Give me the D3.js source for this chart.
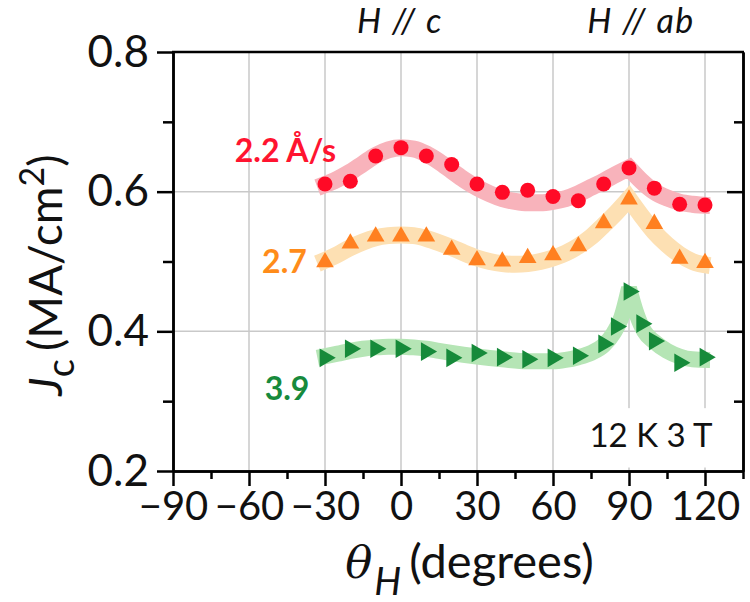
<!DOCTYPE html>
<html><head><meta charset="utf-8">
<script src="https://cdn.jsdelivr.net/npm/d3@7"></script>
<style>body{margin:0;background:#fff}svg{display:block}</style>
</head><body>
<script>
// ---- data ----
const redAngles = [-30,-20,-10,0,10,20,30,40,50,60,70,80,90,100,110,120];
const redValues = [0.611,0.615,0.651,0.663,0.651,0.639,0.611,0.599,0.602,0.593,0.587,0.611,0.634,0.605,0.582,0.581];
const orangeAngles = [-30,-20,-10,0,10,20,30,40,50,60,70,80,90,100,110,120];
const orangeValues = [0.499,0.526,0.536,0.536,0.536,0.517,0.502,0.500,0.505,0.509,0.522,0.555,0.589,0.554,0.504,0.498];
const greenAngles = [-30,-20,-10,0,10,20,30,40,50,60,70,80,85,90,95,100,110,120];
const greenValues = [0.362,0.375,0.375,0.375,0.371,0.362,0.369,0.363,0.360,0.362,0.365,0.382,0.407,0.457,0.411,0.386,0.355,0.363];

// fitted guide bands
const redFitAngles = [-33,-25,-20,-15,-10,-5,0,5,10,15,20,25,30,35,40,45,50,55,60,65,70,75,80,85,90,95,100,105,110,115,122];
const redFitValues = [0.606,0.618,0.628,0.640,0.652,0.660,0.663,0.661,0.654,0.643,0.630,0.617,0.606,0.597,0.590,0.586,0.584,0.584,0.586,0.590,0.597,0.606,0.615,0.625,0.634,0.615,0.600,0.591,0.585,0.582,0.580];
const orangeFitAngles = [-33,-25,-20,-15,-10,-5,0,5,10,15,20,25,30,35,40,45,50,55,60,65,70,75,80,85,90,95,100,105,110,115,122];
const orangeFitValues = [0.497,0.510,0.520,0.528,0.534,0.537,0.538,0.537,0.533,0.527,0.520,0.512,0.505,0.500,0.497,0.496,0.497,0.500,0.505,0.512,0.522,0.535,0.552,0.570,0.590,0.565,0.542,0.524,0.510,0.500,0.494];
const greenFitAngles = [-33,-25,-20,-15,-10,-5,0,5,10,15,20,30,40,50,55,60,65,70,75,80,84,87,90,93,96,100,105,110,115,122];
const greenFitValues = [0.362,0.368,0.372,0.375,0.377,0.378,0.378,0.377,0.375,0.372,0.369,0.364,0.360,0.357,0.357,0.357,0.359,0.363,0.369,0.380,0.398,0.420,0.462,0.425,0.400,0.385,0.372,0.364,0.360,0.359];

const xMajorTicks = [-90,-60,-30,0,30,60,90,120];
const xMinorTicks = [-75,-45,-15,15,45,75,105,135];
const yMajorTicks = [0.2,0.4,0.6,0.8];
const yMinorTicks = [0.3,0.5,0.7];
const xGridTicks = [-60,-30,0,30,60,90,120];
const yGridTicks = [0.4,0.6];

const seriesLabels = ["2.2 Å/s","2.7","3.9"];
const topLabels = ["H // c","H // ab"];
const topLabelAngles = [0,90];
const conditionLabel = "12 K 3 T";

// ---- layout ----
const W = 750, H = 602;
const svg = d3.select("body").append("svg").attr("width",W).attr("height",H);
const x = d3.scaleLinear().domain([-90,135]).range([173,743]);
const y = d3.scaleLinear().domain([0.2,0.8]).range([471,52]);
const FONT = "Lato, 'Open Sans', sans-serif";
const fmt = d => (d < 0 ? "\u2212" + Math.abs(d) : String(d));

// grid
const grid = svg.append("g");
grid.selectAll(".gx").data(xGridTicks).join("line")
  .attr("x1",d=>x(d)).attr("x2",d=>x(d)).attr("y1",y(0.8)).attr("y2",y(0.2))
  .attr("stroke","#c9c9c9").attr("stroke-width",1.5);
grid.selectAll(".gy").data(yGridTicks).join("line")
  .attr("x1",x(-90)).attr("x2",x(135)).attr("y1",d=>y(d)).attr("y2",d=>y(d))
  .attr("stroke","#c9c9c9").attr("stroke-width",1.5);

// white box behind condition label
svg.append("rect").attr("x",x(82)).attr("y",y(0.29)).attr("width",x(130)-x(82)).attr("height",y(0.205)-y(0.29)).attr("fill","#fff");

// bands
function band(angles, values, color, width){
  const pts = angles.map((a,i)=>[a,values[i]]);
  const left = pts.filter(p=>p[0]<=90), right = pts.filter(p=>p[0]>=90);
  const line = d3.line().x(p=>x(p[0])).y(p=>y(p[1])).curve(d3.curveMonotoneX);
  const d = line(left) + line(right).replace(/^M/,"L");
  svg.append("path").attr("d",d).attr("fill","none").attr("stroke",color)
    .attr("stroke-width",width).attr("stroke-linejoin","miter").attr("stroke-miterlimit",3);
}
band(redFitAngles, redFitValues, "#f8b3bb", 17);
band(orangeFitAngles, orangeFitValues, "#fde0b3", 17);
band(greenFitAngles, greenFitValues, "#b5e5b5", 16);

// markers
svg.append("g").selectAll("circle").data(redAngles.map((a,i)=>[a,redValues[i]])).join("circle")
  .attr("cx",p=>x(p[0])).attr("cy",p=>y(p[1])).attr("r",7.5).attr("fill","#ff0a26");
const tri = d3.symbol().type(d3.symbolTriangle).size(135);
svg.append("g").selectAll("path").data(orangeAngles.map((a,i)=>[a,orangeValues[i]])).join("path")
  .attr("d",tri).attr("transform",p=>`translate(${x(p[0])},${y(p[1])})`).attr("fill","#ff8020");
const triR = d3.symbol().type(d3.symbolTriangle).size(150);
svg.append("g").selectAll("path").data(greenAngles.map((a,i)=>[a,greenValues[i]])).join("path")
  .attr("d",triR).attr("transform",p=>`translate(${x(p[0])},${y(p[1])}) rotate(90)`).attr("fill","#168a3a");

// axes
const ax = svg.append("g").attr("transform",`translate(0,${y(0.2)})`)
  .call(d3.axisBottom(x).tickValues(xMajorTicks).tickFormat(fmt).tickSize(15).tickPadding(6).tickSizeOuter(0));
svg.append("g").attr("transform",`translate(0,${y(0.2)})`)
  .call(d3.axisBottom(x).tickValues(xMinorTicks).tickFormat("").tickSize(8).tickSizeOuter(0));
const ay = svg.append("g").attr("transform",`translate(${x(-90)},0)`)
  .call(d3.axisLeft(y).tickValues(yMajorTicks).tickFormat(d3.format(".1f")).tickSize(16).tickPadding(8).tickSizeOuter(0));
svg.append("g").attr("transform",`translate(${x(-90)},0)`)
  .call(d3.axisLeft(y).tickValues(yMinorTicks).tickFormat("").tickSize(10).tickSizeOuter(0));
svg.append("g").attr("transform",`translate(${x(135)},0)`)
  .call(d3.axisLeft(y).tickValues(yGridTicks).tickFormat("").tickSize(16).tickSizeOuter(0));
svg.append("g").attr("transform",`translate(${x(135)},0)`)
  .call(d3.axisLeft(y).tickValues(yMinorTicks).tickFormat("").tickSize(9).tickSizeOuter(0));
svg.append("line").attr("x1",x(-90)-1).attr("x2",x(135)+1).attr("y1",y(0.8)).attr("y2",y(0.8)).attr("stroke","#000").attr("stroke-width",2.5);
svg.selectAll(".domain").attr("stroke","#000").attr("stroke-width",2.5);
svg.selectAll(".tick line").attr("stroke","#000").attr("stroke-width",2.5);
ax.selectAll("text").attr("font-family",FONT).attr("font-size",40).attr("fill","#111");
ay.selectAll("text").attr("font-family",FONT).attr("font-size",44).attr("fill","#111");

// axis titles
const xt = svg.append("text").attr("x",x(-22)).attr("y",578).attr("font-family",FONT).attr("fill","#111");
xt.append("tspan").text("θ").attr("font-family","'DejaVu Serif', serif").attr("font-style","italic").attr("font-size",45);
xt.append("tspan").text("H").attr("font-style","italic").attr("font-size",38).attr("dy",17).attr("dx",2);
xt.append("tspan").text("(degrees)").attr("font-size",47).attr("dy",-17).attr("dx",8);

const yt = svg.append("text").attr("transform","translate(62,275) rotate(-90)")
  .attr("text-anchor","middle").attr("font-family",FONT).attr("font-size",46).attr("fill","#111");
yt.append("tspan").text("J").attr("font-style","italic");
yt.append("tspan").text("c").attr("font-size",38).attr("dy",12);
yt.append("tspan").text("(MA/cm").attr("dy",-12).attr("dx",8);
yt.append("tspan").text("2").attr("font-size",34).attr("dy",-18);
yt.append("tspan").text(")").attr("dy",18);

// top labels
svg.selectAll(".toplab").data(topLabels).join("text")
  .attr("x",(d,i)=>x(topLabelAngles[i]) + (i ? 12 : -1)).attr("y",33)
  .attr("text-anchor","middle").attr("font-family",FONT).attr("font-style","italic").attr("font-size",34)
  .attr("letter-spacing",1.5).attr("fill","#111")
  .text(d=>d);

// series labels
const labColors = ["#ff1430","#ff8c1a","#178a3c"];
const labPos = [[-46,0.642],[-46,0.483],[-45,0.302]];
svg.selectAll(".slab").data(seriesLabels).join("text")
  .attr("x",(d,i)=>x(labPos[i][0]) + (i===0 ? 1 : 0)).attr("y",(d,i)=>y(labPos[i][1]))
  .attr("text-anchor","middle").attr("font-family",FONT).attr("font-weight","bold").attr("font-size",32)
  .attr("fill",(d,i)=>labColors[i]).text(d=>d);

svg.append("text").attr("x",x(123)).attr("y",y(0.234)).attr("text-anchor","end")
  .attr("font-family",FONT).attr("font-size",33).attr("fill","#111").text(conditionLabel);
</script>
</body></html>
